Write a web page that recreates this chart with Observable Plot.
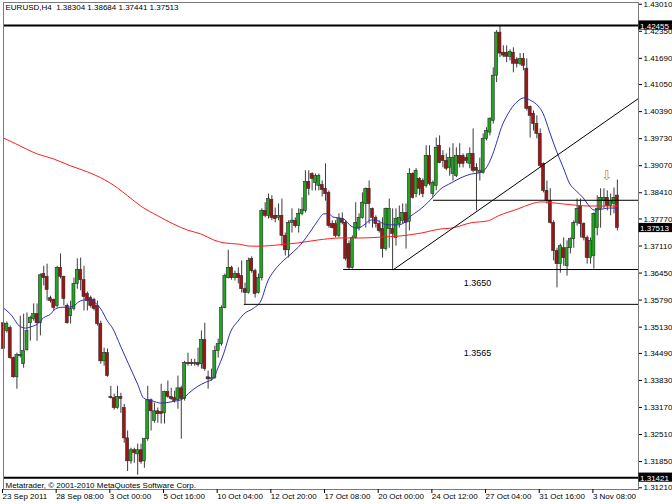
<!DOCTYPE html>
<html><head><meta charset="utf-8">
<script src="https://cdn.jsdelivr.net/npm/d3@7"></script>
<script src="https://cdn.jsdelivr.net/npm/@observablehq/plot@0.6"></script>
<style>
html,body{margin:0;padding:0;background:#fff;}
svg{overflow:visible;}
</style>
</head><body><div id="chart"></div>
<script>
// ---------- data ----------
const symbol = "EURUSD,H4";
const copyright = "Metatrader, \u00a9 2001-2010 MetaQuotes Software Corp.";

const open = [
1.3519,1.3500,1.3507,1.3434,1.3387,1.3441,1.3419,1.3453,1.3519,1.3529,
1.3541,1.3519,1.3639,1.3632,1.3580,1.3576,1.3561,1.3654,1.3632,1.3561,
1.3536,1.3554,1.3615,1.3649,1.3624,1.3590,1.3580,1.3576,1.3561,1.3517,
1.3426,1.3446,1.3339,1.3336,1.3312,1.3339,1.3312,1.3238,1.3182,1.3209,
1.3199,1.3209,1.3182,1.3236,1.3331,1.3280,1.3304,1.3302,1.3299,1.3351,
1.3339,1.3336,1.3331,1.3360,1.3334,1.3422,1.3422,1.3419,1.3422,1.3419,
1.3478,1.3387,1.3382,1.3385,1.3451,1.3468,1.3556,1.3629,1.3654,1.3629,
1.3639,1.3634,1.3602,1.3593,1.3676,1.3646,1.3593,1.3629,1.3793,1.3781,
1.3820,1.3781,1.3776,1.3781,1.3732,1.3697,1.3764,1.3769,1.3756,1.3786,
1.3793,1.3864,1.3883,1.3861,1.3854,1.3856,1.3847,1.3837,1.3761,1.3761,
1.3732,1.3773,1.3764,1.3712,1.3654,1.3727,1.3751,1.3776,1.3810,1.3847,
1.3798,1.3776,1.3761,1.3749,1.3700,1.3749,1.3749,1.3727,1.3761,1.3769,
1.3788,1.3766,1.3883,1.3834,1.3871,1.3866,1.3854,1.3927,1.3834,1.3854,
1.3952,1.3927,1.3915,1.3898,1.3883,1.3878,1.3927,1.3927,1.3922,1.3908,
1.3932,1.3898,1.3886,1.3886,1.3969,1.3984,1.4013,1.4123,1.4228,1.4179,
1.4179,1.4169,1.4179,1.4162,1.4152,1.4164,1.4140,1.4047,1.4030,1.4005,
1.3981,1.3908,1.3842,1.3817,1.3764,1.3695,1.3663,1.3702,1.3658,1.3702,
1.3724,1.3764,1.3805,1.3761,1.3727,1.3678,1.3683,1.3751,1.3798,1.3817,
1.3825,1.3805,1.3810,1.38304];
const high = [
1.3529,1.3522,1.3512,1.3436,1.3446,1.3536,1.3541,1.3544,1.3536,1.3566,
1.3566,1.3639,1.3658,1.3663,1.3585,1.3578,1.3658,1.3688,1.3634,1.3566,
1.3573,1.3629,1.3676,1.3678,1.3658,1.3595,1.3585,1.3580,1.3573,1.3524,
1.3458,1.3456,1.3365,1.3346,1.3365,1.3348,1.3321,1.3256,1.3214,1.3214,
1.3224,1.3224,1.3238,1.3365,1.3334,1.3324,1.3312,1.3370,1.3353,1.3378,
1.3360,1.3353,1.3390,1.3365,1.3426,1.3446,1.3431,1.3431,1.3458,1.3500,
1.3519,1.3402,1.3407,1.3463,1.3480,1.3561,1.3639,1.3697,1.3658,1.3646,
1.3654,1.3671,1.3617,1.3678,1.3681,1.3651,1.3639,1.3798,1.3813,1.3834,
1.3830,1.3800,1.3810,1.3822,1.3739,1.3769,1.3798,1.3776,1.3798,1.3825,
1.3891,1.3891,1.3886,1.3883,1.3883,1.3866,1.3908,1.3842,1.3769,1.3769,
1.3786,1.3788,1.3769,1.3720,1.3732,1.3813,1.3786,1.3837,1.3849,1.3866,
1.3800,1.3781,1.3769,1.3776,1.3800,1.3822,1.3798,1.3798,1.3805,1.3810,
1.3810,1.3896,1.3886,1.3896,1.3874,1.3871,1.3952,1.3952,1.3866,1.3971,
1.3976,1.3940,1.3932,1.3947,1.3957,1.3947,1.3957,1.3932,1.3932,1.3947,
1.3993,1.3908,1.3922,1.3981,1.3996,1.4020,1.4142,1.4233,1.42455,1.4196,
1.4196,1.4186,1.4191,1.4167,1.4177,1.4177,1.4164,1.4049,1.4037,1.4025,
1.3993,1.3910,1.3866,1.3847,1.3769,1.3702,1.3712,1.3727,1.3720,1.3727,
1.3769,1.3822,1.3822,1.3764,1.3732,1.3727,1.3788,1.3830,1.3847,1.3847,
1.3842,1.3834,1.3849,1.38684];
const low = [
1.3451,1.3495,1.3431,1.3385,1.3358,1.3434,1.3409,1.3451,1.3475,1.3524,
1.3475,1.3488,1.3610,1.3573,1.3568,1.3549,1.3556,1.3627,1.3561,1.3517,
1.3517,1.3549,1.3602,1.3598,1.3549,1.3549,1.3556,1.3549,1.3512,1.3419,
1.3414,1.3387,1.3334,1.3307,1.3309,1.3299,1.3226,1.3157,1.3175,1.3177,
1.3148,1.3175,1.3165,1.3231,1.3256,1.3275,1.3275,1.3273,1.3273,1.3336,
1.3331,1.3324,1.3309,1.3236,1.3329,1.3414,1.3414,1.3414,1.3412,1.3407,
1.3402,1.3358,1.3378,1.3382,1.3434,1.3463,1.3554,1.3627,1.3624,1.3622,
1.3615,1.3593,1.3565,1.3590,1.3641,1.3580,1.3590,1.3622,1.3776,1.3773,
1.3769,1.3764,1.3769,1.3707,1.3683,1.3678,1.3739,1.3751,1.3739,1.3781,
1.3788,1.3830,1.3842,1.3842,1.3842,1.3827,1.3817,1.3751,1.3749,1.3727,
1.3727,1.3759,1.3671,1.3650,1.3651,1.3724,1.3744,1.3773,1.3751,1.3761,
1.3751,1.3751,1.3739,1.3678,1.3695,1.3702,1.3650,1.3707,1.3751,1.3761,
1.3700,1.3744,1.3822,1.3825,1.3830,1.3825,1.3849,1.3854,1.3825,1.3842,
1.3908,1.3898,1.3891,1.3878,1.3866,1.3874,1.3898,1.3898,1.3908,1.3896,
1.3886,1.3793,1.3866,1.3883,1.3964,1.3976,1.4005,1.4106,1.4167,1.4167,
1.4155,1.4159,1.4130,1.4142,1.4147,1.4135,1.4037,1.3971,1.3988,1.3969,
1.3898,1.3837,1.3810,1.3761,1.3671,1.3605,1.3641,1.3658,1.3634,1.3688,
1.3702,1.3756,1.3727,1.3720,1.3663,1.3663,1.3651,1.3732,1.3751,1.3798,
1.3793,1.3781,1.3786,1.37441];
const close = [
1.3456,1.3517,1.3434,1.3387,1.3441,1.3439,1.3451,1.3500,1.3532,1.3541,
1.3519,1.3636,1.3629,1.3600,1.3573,1.3556,1.3654,1.3632,1.3578,1.3519,
1.3554,1.3615,1.3649,1.3624,1.3583,1.3573,1.3561,1.3554,1.3517,1.3426,
1.3446,1.3390,1.3336,1.3312,1.3339,1.3334,1.3238,1.3182,1.3209,1.3202,
1.3209,1.3180,1.3236,1.3331,1.3304,1.3304,1.3297,1.3297,1.3351,1.3339,
1.3334,1.3329,1.3360,1.3334,1.3422,1.3419,1.3419,1.3422,1.3417,1.3478,
1.3407,1.3382,1.3385,1.3451,1.3468,1.3556,1.3634,1.3654,1.3629,1.3639,
1.3629,1.3602,1.3593,1.3671,1.3646,1.3590,1.3629,1.3793,1.3781,1.3822,
1.3776,1.3773,1.3781,1.3732,1.3697,1.3764,1.3769,1.3756,1.3786,1.3795,
1.3864,1.3847,1.3871,1.3878,1.3878,1.3844,1.3834,1.3756,1.3751,1.3732,
1.3773,1.3764,1.3676,1.3654,1.3727,1.3764,1.3776,1.3813,1.3847,1.3810,
1.3776,1.3761,1.3744,1.3700,1.3798,1.3798,1.3737,1.3773,1.3776,1.3788,
1.3764,1.3883,1.3825,1.3891,1.3847,1.3834,1.3927,1.3859,1.3861,1.3947,
1.3910,1.3915,1.3896,1.3922,1.3922,1.3927,1.3908,1.3908,1.3915,1.3932,
1.3891,1.3891,1.3891,1.3969,1.3988,1.4018,1.4123,1.4228,1.4177,1.4172,
1.4169,1.4181,1.4152,1.4152,1.4164,1.4147,1.4042,1.4025,1.4005,1.3981,
1.3903,1.3842,1.3817,1.3764,1.3695,1.3663,1.3707,1.3678,1.3702,1.3724,
1.3764,1.3798,1.3761,1.3727,1.3678,1.3720,1.3786,1.3798,1.3825,1.3825,
1.3805,1.3817,1.3825,1.37513];

// moving averages (bar index, price)
const fastMA = [
[0,1.3556],[2.1,1.3541],[5.1,1.3510],[6.6,1.3507],[8.1,1.3510],[10.1,1.3517],[11.9,1.3532],
[14,1.3541],[15.5,1.3554],[17.6,1.3558],[19.1,1.3558],[20.9,1.3561],[22.4,1.3571],[24.5,1.3576],
[26,1.3576],[27.5,1.3568],[29,1.3554],[31,1.3524],[32.5,1.3507],[34.9,1.3463],[37.3,1.3419],
[40,1.3370],[41.8,1.3336],[44.5,1.3329],[46.9,1.3324],[49.3,1.3326],[51.3,1.3329],[53.4,1.3334],
[55.2,1.3348],[57.9,1.3365],[60.3,1.3375],[62.7,1.3385],[63.8,1.3407],[65.6,1.3444],[67.8,1.3500],
[69.9,1.3524],[71.6,1.3541],[74.6,1.3556],[76.7,1.3573],[78.8,1.3622],[80.6,1.3646],[82.7,1.3666],
[85.7,1.3688],[88.7,1.3712],[91.6,1.3744],[93.7,1.3769],[95.5,1.3786],[97,1.3786],[98.2,1.3778],
[100,1.3776],[101.5,1.3773],[103.6,1.3756],[105.7,1.3751],[107.5,1.3759],[109.6,1.3771],[111.6,1.3769],
[113.4,1.3761],[115.5,1.3759],[117.6,1.3759],[119.4,1.3764],[121.5,1.3781],[123.6,1.3793],[125.4,1.3805],
[127.5,1.3822],[130.4,1.3847],[133.4,1.3861],[136.4,1.3874],[139.4,1.3883],[141.8,1.3886],[143.9,1.3898],
[145.4,1.3922],[146.9,1.3957],[148.4,1.3996],[150.4,1.4030],[152.8,1.4057],[155.2,1.4069],[157.3,1.4062],
[159.4,1.4049],[160.9,1.4030],[162.7,1.3988],[164.8,1.3940],[166.9,1.3898],[168.7,1.3861],[170.7,1.3842],
[172.8,1.3825],[174.6,1.3805],[176.1,1.3795],[178.8,1.3798],[180.6,1.3800],[183,1.3800]];
const slowMA = [
[0,1.3971],[3.6,1.3957],[10.1,1.3932],[14.9,1.3920],[20,1.3903],[25.1,1.3888],[29,1.3874],
[34,1.3849],[37,1.3830],[40.9,1.3805],[46,1.3781],[50.7,1.3761],[54.9,1.3746],[58.8,1.3737],
[62.7,1.3722],[65.7,1.3715],[70.1,1.3712],[73.7,1.3707],[76.7,1.3707],[81.8,1.3710],[87.8,1.3715],
[93.7,1.3722],[100.6,1.3727],[106.6,1.3727],[112.5,1.3729],[118.5,1.3732],[124.5,1.3739],[130.4,1.3749],
[133.4,1.3751],[139.4,1.3764],[144.5,1.3769],[147.5,1.3781],[153.4,1.3798],[157.3,1.3810],[160.3,1.3815],
[166.9,1.3810],[174.6,1.3805],[183,1.3805]];

// drawn objects
const fullLines = [1.42455, 1.31421];
const partialLines = [1.3819, 1.3650, 1.3565];
const partialStart = [128.2, 101.4, 71.8];
const trendIdx = [116.3, 189.3];
const trendPrice = [1.3650, 1.40674];
const noteText = ["1.3650", "1.3565"];
const noteIdx = [137.2, 137.2];
const notePrice = [1.3618, 1.3447];
const arrowIdx = 179.8, arrowPrice = 1.38795;

// axes
const yTicks = [1.43010,1.42350,1.41690,1.41050,1.40390,1.39730,1.39070,1.38410,1.37770,1.37110,
  1.36450,1.35790,1.35130,1.34490,1.33830,1.33170,1.32510,1.31850,1.31210];
const xTickIdx = [0,16,32,48,64,80,96,112,128,144,160,176];
const xLabels = ["23 Sep 2011","28 Sep 08:00","3 Oct 00:00","5 Oct 16:00","10 Oct 04:00","12 Oct 20:00",
  "17 Oct 08:00","20 Oct 00:00","24 Oct 12:00","27 Oct 04:00","31 Oct 16:00","3 Nov 08:00"];
const boxPrices = [1.42455, 1.37513, 1.31421];

// ---------- build ----------
const X_MAX = 189.3;
const BOX_H = 0.00112;
const candles = open.map((o, i) => ({i, open: o, high: high[i], low: low[i], close: close[i]}));
const last = candles[candles.length - 1];
const header = `${symbol}\u00a0\u00a0${last.open.toFixed(5)} ${last.high.toFixed(5)} ${last.low.toFixed(5)} ${last.close.toFixed(5)}`;
const parts = partialLines.map((p, k) => ({p, s: partialStart[k]}));
const trend = trendIdx.map((x, k) => ({x, y: trendPrice[k]}));
const notes = noteText.map((t, k) => ({t, x: noteIdx[k], y: notePrice[k]}));
const labelOf = new Map(xTickIdx.map((d, k) => [d, xLabels[k]]));

const GREEN = "#1fa81f", RED = "#a01414", WICK = "#3c3c3c";
const FONT = "'Liberation Sans', Arial, sans-serif";

const chart = Plot.plot({
  width: 672, height: 504,
  marginLeft: 3, marginRight: 34, marginTop: 2, marginBottom: 15,
  x: {type: "linear", domain: [0, X_MAX]},
  y: {type: "linear", domain: [1.31132, 1.43016]},
  style: {background: "#fff", fontFamily: FONT, fontSize: "8px", color: "#000"},
  marks: [
    Plot.ruleX(candles, {x: "i", y1: "low", y2: "high", stroke: WICK, strokeWidth: 1}),
    Plot.rect(candles, {filter: d => d.close >= d.open, x1: d => d.i - 0.45, x2: d => d.i + 0.45,
      y1: "open", y2: "close", fill: GREEN, stroke: "#2a2a2a", strokeWidth: 0.6}),
    Plot.rect(candles, {filter: d => d.close < d.open, x1: d => d.i - 0.45, x2: d => d.i + 0.45,
      y1: "open", y2: "close", fill: RED, stroke: "#2a2a2a", strokeWidth: 0.6}),
    Plot.line(slowMA, {x: d => d[0], y: d => d[1], stroke: "#ff1e1e", strokeWidth: 1, curve: "monotone-x"}),
    Plot.line(fastMA, {x: d => d[0], y: d => d[1], stroke: "#2f2fb8", strokeWidth: 1, curve: "monotone-x"}),
    Plot.ruleY(fullLines, {stroke: "#000", strokeWidth: 2}),
    Plot.ruleY(parts, {y: "p", x1: "s", x2: () => X_MAX, stroke: "#000", strokeWidth: 1}),
    Plot.line(trend, {x: "x", y: "y", stroke: "#000", strokeWidth: 1}),
    Plot.text(notes, {x: "x", y: "y", text: "t", textAnchor: "start", fontSize: 9, fill: "#000"}),
    Plot.text([arrowIdx], {x: d => d, y: () => arrowPrice, text: () => "\u21e9", fontSize: 13, fill: "#d9861c",
      fontFamily: "DejaVu Sans"}),
    Plot.frame({stroke: "#7a7a7a"}),
    Plot.text([header], {frameAnchor: "top-left", dx: 2, dy: 2, lineAnchor: "top", textAnchor: "start",
      text: d => d, fontSize: 8, fill: "#000"}),
    Plot.text([copyright], {frameAnchor: "bottom-left", dx: 2, dy: -1.5, lineAnchor: "bottom", textAnchor: "start",
      text: d => d, fontSize: 8, fill: "#000"}),
    Plot.axisY({anchor: "right", ticks: yTicks, tickFormat: d => d.toFixed(5), tickSize: 3, tickPadding: 2,
      dy: 1.5, fontSize: 8, label: null}),
    Plot.axisX({anchor: "bottom", ticks: xTickIdx, tickFormat: d => labelOf.get(d), tickSize: 4, tickPadding: 0,
      textAnchor: "start", dx: -1, fontSize: 8, label: null}),
    Plot.rect(boxPrices, {x1: X_MAX + 0.15, x2: X_MAX + 10.2, y1: d => d - BOX_H, y2: d => d + BOX_H, fill: "#000"}),
    Plot.text(boxPrices, {x: X_MAX + 0.45, y: d => d, text: d => d.toFixed(5), textAnchor: "start",
      fill: "#fff", fontSize: 8, dy: 0.5})
  ]
});
document.getElementById("chart").appendChild(chart);
</script>
</body></html>
